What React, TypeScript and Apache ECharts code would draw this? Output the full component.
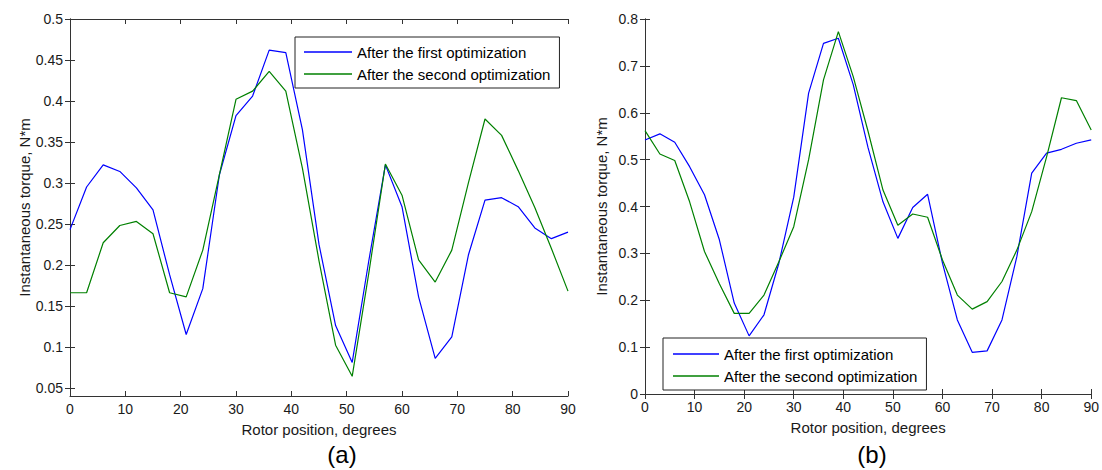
import React, { useEffect, useRef } from "react";
import * as echarts from "echarts";

// Rotor position (degrees)
const DEG = [0, 3, 6, 9, 12, 15, 18, 21, 24, 27, 30, 33, 36, 39, 42, 45, 48, 51, 54, 57, 60, 63, 66, 69, 72, 75, 78, 81, 84, 87, 90];

// Panel (a)
const A_FIRST = [0.243, 0.295, 0.322, 0.314, 0.294, 0.267, 0.188, 0.115, 0.171, 0.31, 0.382, 0.406, 0.462, 0.459, 0.365, 0.225, 0.126, 0.081, 0.205, 0.322, 0.271, 0.161, 0.086, 0.112, 0.212, 0.279, 0.282, 0.271, 0.245, 0.232, 0.24];
const A_SECOND = [0.166, 0.166, 0.227, 0.248, 0.253, 0.238, 0.166, 0.161, 0.218, 0.31, 0.402, 0.412, 0.436, 0.412, 0.318, 0.205, 0.102, 0.064, 0.19, 0.323, 0.285, 0.206, 0.179, 0.218, 0.3, 0.378, 0.358, 0.315, 0.27, 0.22, 0.168];

// Panel (b)
const B_FIRST = [0.542, 0.555, 0.537, 0.485, 0.425, 0.329, 0.194, 0.124, 0.169, 0.279, 0.42, 0.642, 0.748, 0.759, 0.66, 0.525, 0.41, 0.332, 0.398, 0.426, 0.279, 0.158, 0.089, 0.092, 0.158, 0.293, 0.471, 0.514, 0.522, 0.535, 0.542];
const B_SECOND = [0.562, 0.512, 0.498, 0.41, 0.304, 0.235, 0.172, 0.172, 0.211, 0.282, 0.357, 0.5, 0.67, 0.773, 0.677, 0.56, 0.435, 0.36, 0.384, 0.377, 0.286, 0.211, 0.181, 0.197, 0.24, 0.307, 0.389, 0.506, 0.632, 0.626, 0.563];

const Y_TICKS_A = [0.05, 0.1, 0.15, 0.2, 0.25, 0.3, 0.35, 0.4, 0.45, 0.5];
const Y_TICKS_B = [0, 0.1, 0.2, 0.3, 0.4, 0.5, 0.6, 0.7, 0.8];

const NAME_FIRST = "After the first optimization";
const NAME_SECOND = "After the second optimization";
const X_TITLE = "Rotor position, degrees";
const Y_TITLE = "Instantaneous torque, N*m";
const PANEL_LABELS = ["(a)", "(b)"];

export default function App() {
  const ref = useRef<HTMLDivElement>(null);

  useEffect(() => {
    const chart = echarts.init(ref.current as HTMLDivElement, null, { renderer: "svg" });
    const font = "'Liberation Sans', Arial, sans-serif";
    const axisColor = "#333";
    const textColor = "#1a1a1a";
    const pairs = (ys: number[]) => DEG.map((d, i) => [d, ys[i]]);

    const grids = [
      { left: 70, top: 19, width: 498, height: 377 },
      { left: 645, top: 19, width: 447, height: 375 },
    ];
    const yRanges = [
      { min: 0.04, max: 0.5, ticks: Y_TICKS_A },
      { min: 0, max: 0.8, ticks: Y_TICKS_B },
    ];

    const xAxis: any[] = [];
    const yAxis: any[] = [];
    [0, 1].forEach((g) => {
      xAxis.push({
        type: "value",
        gridIndex: g,
        position: "bottom",
        min: 0,
        max: 90,
        interval: 10,
        axisLine: { show: true, lineStyle: { color: axisColor, width: 1 } },
        axisTick: { show: true, inside: true, length: 5, lineStyle: { color: axisColor } },
        axisLabel: { show: true, fontSize: 14, color: textColor, fontFamily: font, margin: 6 },
        splitLine: { show: false },
        name: X_TITLE,
        nameLocation: "middle",
        nameGap: 26,
        nameTextStyle: { fontSize: 15, color: textColor, fontFamily: font },
      });
    });
    [0, 1].forEach((g) => {
      xAxis.push({
        type: "value",
        gridIndex: g,
        position: "top",
        min: 0,
        max: 90,
        interval: 10,
        axisLine: { show: true, lineStyle: { color: axisColor, width: 1 } },
        axisTick: { show: true, inside: true, length: 5, lineStyle: { color: axisColor } },
        axisLabel: { show: false },
        splitLine: { show: false },
      });
    });
    [0, 1].forEach((g) => {
      const r = yRanges[g];
      yAxis.push({
        type: "value",
        gridIndex: g,
        position: "left",
        min: r.min,
        max: r.max,
        axisLine: { show: true, lineStyle: { color: axisColor, width: 1 } },
        axisTick: { show: true, inside: true, length: 5, lineStyle: { color: axisColor }, customValues: r.ticks },
        axisLabel: {
          show: true,
          fontSize: 14,
          color: textColor,
          fontFamily: font,
          margin: 7,
          customValues: r.ticks,
          formatter: (v: number) => String(Number(v.toFixed(2))),
        },
        splitLine: { show: false },
        name: Y_TITLE,
        nameLocation: "middle",
        nameGap: 36,
        nameTextStyle: { fontSize: 15, color: textColor, fontFamily: font },
      });
    });
    [0, 1].forEach((g) => {
      const r = yRanges[g];
      yAxis.push({
        type: "value",
        gridIndex: g,
        position: "right",
        min: r.min,
        max: r.max,
        axisLine: { show: true, lineStyle: { color: axisColor, width: 1 } },
        axisTick: { show: true, inside: true, length: 5, lineStyle: { color: axisColor }, customValues: r.ticks },
        axisLabel: { show: false },
        splitLine: { show: false },
      });
    });

    const mkSeries = (name: string, g: number, ys: number[], color: string) => ({
      type: "line",
      name,
      xAxisIndex: g,
      yAxisIndex: g,
      data: pairs(ys),
      symbol: "none",
      showSymbol: false,
      lineStyle: { color, width: 1.2 },
      itemStyle: { color },
      emphasis: { disabled: true },
    });

    const blue = "#0000ff";
    const green = "#008000";

    const legendCommon = {
      orient: "vertical",
      icon: "rect",
      itemHeight: 1.5,
      itemGap: 6,
      borderColor: "#222",
      borderWidth: 1,
      backgroundColor: "#fff",
      borderRadius: 0,
      selectedMode: false,
      textStyle: { fontSize: 15, color: "#000", fontFamily: font, lineHeight: 16 },
      data: [NAME_FIRST, NAME_SECOND],
    };

    chart.setOption({
      animation: false,
      backgroundColor: "#fff",
      grid: grids.map((g) => ({ ...g, containLabel: false })),
      xAxis,
      yAxis,
      legend: [
        { ...legendCommon, left: 295, top: 37, itemWidth: 48, padding: [7, 9, 6, 9] },
        { ...legendCommon, left: 663, top: 338, itemWidth: 46, padding: [8, 9, 6, 10] },
      ],
      series: [
        mkSeries(NAME_FIRST, 0, A_FIRST, blue),
        mkSeries(NAME_SECOND, 0, A_SECOND, green),
        mkSeries(NAME_FIRST, 1, B_FIRST, blue),
        mkSeries(NAME_SECOND, 1, B_SECOND, green),
      ],
      graphic: [
        {
          type: "text",
          x: 342,
          y: 454,
          style: { text: PANEL_LABELS[0], fontSize: 24, lineHeight: 26, fontFamily: font, fill: "#000", align: "center", verticalAlign: "middle" },
        },
        {
          type: "text",
          x: 872,
          y: 454,
          style: { text: PANEL_LABELS[1], fontSize: 24, lineHeight: 26, fontFamily: font, fill: "#000", align: "center", verticalAlign: "middle" },
        },
      ],
    });

    return () => chart.dispose();
  }, []);

  return <div ref={ref} style={{ position: "fixed", left: 0, top: 0, width: 1102, height: 470 }} />;
}
